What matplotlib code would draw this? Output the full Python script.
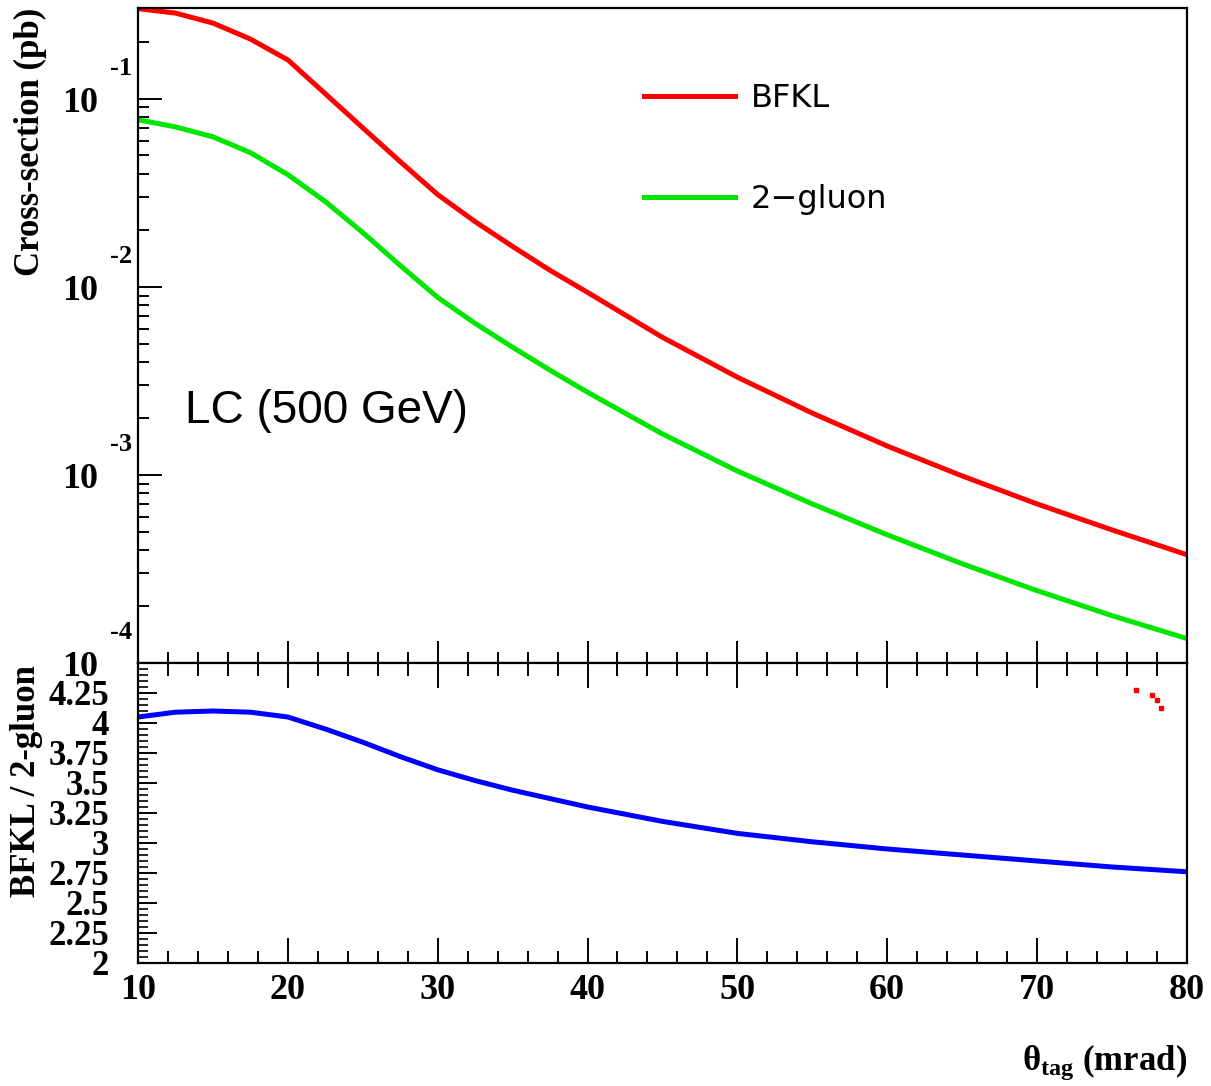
import numpy as np
import matplotlib
matplotlib.use("Agg")
import matplotlib.pyplot as plt
from matplotlib.ticker import MultipleLocator, LogLocator, NullFormatter

# --- data ---
theta = [10, 12.5, 15, 17.5, 20, 22.5, 25, 27.5, 30, 32.5, 35, 37.5, 40,
         45, 50, 55, 60, 65, 70, 75, 80]
log_bfkl = [-0.520, -0.544, -0.597, -0.682, -0.793, -0.973, -1.154, -1.334,
            -1.509, -1.653, -1.785, -1.912, -2.029, -2.268, -2.480, -2.671,
            -2.846, -3.005, -3.154, -3.292, -3.424]
log_2gluon = [-1.111, -1.149, -1.202, -1.286, -1.403, -1.546, -1.711, -1.886,
              -2.056, -2.194, -2.321, -2.443, -2.560, -2.782, -2.979, -3.154,
              -3.318, -3.472, -3.615, -3.748, -3.870]
ratio = [4.05, 4.09, 4.10, 4.09, 4.05, 3.95, 3.84, 3.72, 3.61, 3.52, 3.44,
         3.37, 3.30, 3.18, 3.08, 3.01, 2.95, 2.90, 2.85, 2.80, 2.76]
# stray red specks in the ratio panel
speck_x = [76.6, 77.65, 77.98, 78.25]
speck_y = [4.275, 4.23, 4.19, 4.125]

decades = [-1, -2, -3, -4]
ratio_ticks = [2, 2.25, 2.5, 2.75, 3, 3.25, 3.5, 3.75, 4, 4.25]
ratio_labels = ["2", "2.25", "2.5", "2.75", "3", "3.25", "3.5", "3.75", "4", "4.25"]

bfkl = 10 ** np.array(log_bfkl)
gluon = 10 ** np.array(log_2gluon)

serif = "Liberation Serif"
sans = "Liberation Sans"
plt.rcParams["mathtext.fontset"] = "custom"
plt.rcParams["mathtext.rm"] = "Liberation Serif:bold"
plt.rcParams["mathtext.it"] = "Liberation Serif:bold"
plt.rcParams["mathtext.bf"] = "Liberation Serif:bold"

fig = plt.figure(figsize=(12.11, 10.86), dpi=100)
ax = fig.add_axes([0.114, 0.3895, 0.866, 0.6031])
ax2 = fig.add_axes([0.114, 0.1133, 0.866, 0.2762], sharex=ax)

# --- top panel ---
ax.plot(theta, bfkl, color="#ff0000", lw=3.6, label="BFKL")
ax.plot(theta, gluon, color="#00e600", lw=3.6, label="2\u2212gluon")
ax.set_yscale("log")
ax.set_xlim(10, 80)
ax.set_ylim(1e-4, 10 ** -0.517)
ax.yaxis.set_major_locator(LogLocator(base=10, numticks=10))
ax.yaxis.set_minor_locator(LogLocator(base=10, subs=np.arange(2, 10), numticks=10))
ax.yaxis.set_major_formatter(NullFormatter())
ax.yaxis.set_minor_formatter(NullFormatter())
ax.tick_params(axis="y", which="major", direction="in", length=17, width=1.4)
ax.tick_params(axis="y", which="minor", direction="in", length=8, width=1.4)
ax.tick_params(axis="x", which="major", direction="in", length=16, width=1.4,
               labelbottom=False)
ax.tick_params(axis="x", which="minor", direction="in", length=8, width=1.4)

for d in decades:
    ax.annotate("10", xy=(0, 10 ** d), xycoords=ax.get_yaxis_transform(),
                xytext=(-29, -3), textcoords="offset points", ha="right",
                va="center", fontsize=26, fontweight="bold", family=serif)
    ax.annotate("%d" % d, xy=(0, 10 ** d), xycoords=ax.get_yaxis_transform(),
                xytext=(-4, 22), textcoords="offset points", ha="right",
                va="center", fontsize=19, fontweight="bold", family=serif)

ax.text(0.045, 0.385, "LC (500 GeV)", transform=ax.transAxes, fontsize=33,
        family=sans, ha="left", va="center")

leg = ax.legend(loc="upper left", bbox_to_anchor=(0.482, 0.886), frameon=False,
                prop={"family": "DejaVu Sans", "size": 23},
                handlelength=2.85, handletextpad=0.5,
                labelspacing=2.2, borderpad=0, borderaxespad=0)

fig.text(0.025, 0.993, "Cross-section (pb)", rotation=90, ha="center",
         va="top", fontsize=25, fontweight="bold", family=serif)

# --- ratio panel ---
ax2.plot(theta, ratio, color="#0000ff", lw=3.6)
ax2.plot(speck_x, speck_y, ls="none", marker="s", ms=2.5, color="#ff0000")
ax2.set_ylim(2, 4.5)
ax2.set_yticks(ratio_ticks)
ax2.set_yticklabels(ratio_labels, fontsize=25, fontweight="bold", family=serif)
ax2.yaxis.set_minor_locator(MultipleLocator(0.05))
ax2.xaxis.set_major_locator(MultipleLocator(10))
ax2.xaxis.set_minor_locator(MultipleLocator(2))
ax2.tick_params(axis="y", which="major", direction="in", length=14, width=1.4,
                pad=21)
ax2.tick_params(axis="y", which="minor", direction="in", length=7, width=1.2)
ax2.tick_params(axis="x", which="major", direction="in", length=18, width=1.4,
                pad=8, top=True)
ax2.tick_params(axis="x", which="minor", direction="in", length=9, width=1.4,
                top=True)
for lab in ax2.get_xticklabels():
    lab.set_fontsize(26)
    lab.set_fontweight("bold")
    lab.set_family(serif)

fig.text(0.022, 0.388, "BFKL / 2-gluon", rotation=90, ha="center", va="top",
         fontsize=25, fontweight="bold", family=serif)
fig.text(0.98, 0.022, r"θ$_{\mathrm{tag}}$ (mrad)", ha="right", va="center",
         fontsize=25, fontweight="bold", family=serif)

for a in (ax, ax2):
    for s in a.spines.values():
        s.set_linewidth(1.6)

fig.savefig("out.png", dpi=100)
